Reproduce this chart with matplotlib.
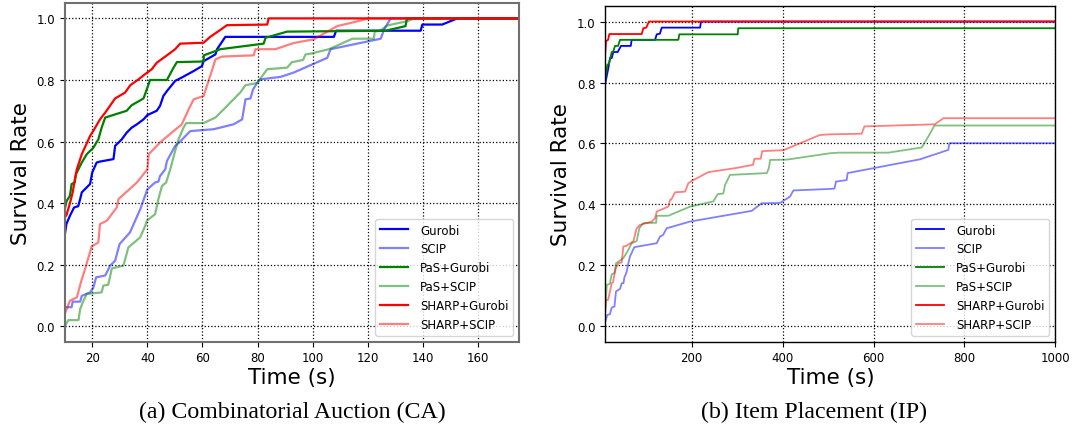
"""Survival-rate curves for CA and IP benchmarks."""

import matplotlib
matplotlib.use("Agg")
import matplotlib.pyplot as plt

labels = ['Gurobi', 'SCIP', 'PaS+Gurobi', 'PaS+SCIP', 'SHARP+Gurobi', 'SHARP+SCIP']

# ---- (a) Combinatorial Auction ----
ca_gurobi_t = [10, 10.6, 11.9, 13.4, 14.9, 15.6, 16.2, 19.2, 20.0, 21.6, 22.8, 27.7, 28.3, 30.7,
               32.5, 34.3, 36.2, 38.6, 40.0, 43.4, 44.6, 45.8, 47.1, 50.1, 52.5, 56.8, 59.8, 60.4,
               64.7, 65.3, 67.7, 68.3, 107.7, 108.5, 139.2, 139.8, 147, 152.5, 200]
ca_gurobi_r = [0.294, 0.332, 0.359, 0.386, 0.39, 0.413, 0.435, 0.462, 0.50, 0.532, 0.535, 0.543,
               0.586, 0.607, 0.629, 0.645, 0.656, 0.672, 0.686, 0.70, 0.716, 0.748, 0.764, 0.797,
               0.808, 0.829, 0.845, 0.861, 0.883, 0.90, 0.932, 0.94, 0.94, 0.96, 0.96, 0.98, 0.98,
               1.0, 1.0]

ca_scip_t = [10, 12.5, 12.9, 15.6, 16.2, 19.2, 20.4, 21.4, 24.7, 26.5, 28.3, 29.9, 33.7, 37.4,
             40.0, 42.8, 44.0, 44.6, 46.5, 47.1, 50.1, 51.9, 55.0, 55.6, 64.0, 71.3, 74.4, 75.6,
             77.4, 78.4, 79.8, 81.0, 88.3, 93.1, 105.3, 106.5, 124.7, 125.9, 128.3, 200]
ca_scip_r = [0.062, 0.062, 0.08, 0.08, 0.099, 0.11, 0.126, 0.159, 0.165, 0.197, 0.213, 0.267,
             0.305, 0.38, 0.445, 0.467, 0.47, 0.488, 0.51, 0.537, 0.586, 0.60, 0.629, 0.634, 0.64,
             0.656, 0.672, 0.737, 0.74, 0.77, 0.79, 0.802, 0.81, 0.824, 0.872, 0.90, 0.934, 0.964,
             1.0, 1.0]

ca_pas_gurobi_t = [10, 10.7, 11.9, 12.5, 13.6, 14.1, 16.2, 18.0, 20.4, 22.2, 23.4, 24.7, 32.5,
                   34.3, 38.6, 39.8, 41.0, 47.1, 49.5, 50.7, 60.4, 60.5, 66.5, 82.2, 82.9, 90.7,
                   126.5, 133.7, 134.2, 200]
ca_pas_gurobi_r = [0.38, 0.407, 0.424, 0.462, 0.467, 0.494, 0.532, 0.559, 0.58, 0.607, 0.645,
                   0.678, 0.70, 0.718, 0.74, 0.77, 0.80, 0.80, 0.84, 0.858, 0.86, 0.88, 0.90,
                   0.918, 0.937, 0.957, 0.96, 0.975, 1.0, 1.0]

ca_pas_scip_t = [10, 11.3, 15.0, 15.6, 16.8, 18.0, 23.4, 24.0, 25.8, 27.1, 31.3, 33.1, 37.4, 39.2,
                 39.8, 42.8, 44.0, 45.3, 46.8, 48.3, 50.1, 51.3, 53.1, 54.1, 60.4, 64.7, 68.3,
                 70.7, 73.7, 75.6, 79.8, 83.5, 90.7, 92.5, 93.7, 96.5, 97.4, 99.0, 105.9, 114.4,
                 122.2, 122.5, 124.5, 127.1, 134.4, 136.8, 200]
ca_pas_scip_r = [0.0, 0.02, 0.02, 0.056, 0.083, 0.105, 0.11, 0.132, 0.135, 0.188, 0.197, 0.256,
                 0.289, 0.326, 0.343, 0.364, 0.413, 0.456, 0.467, 0.51, 0.57, 0.607, 0.645, 0.66,
                 0.66, 0.678, 0.71, 0.732, 0.759, 0.783, 0.79, 0.835, 0.84, 0.858, 0.86, 0.865,
                 0.883, 0.885, 0.90, 0.934, 0.934, 0.957, 0.96, 0.977, 0.991, 1.0, 1.0]

ca_sharp_gurobi_t = [10, 10.6, 11.9, 12.9, 13.7, 14.4, 16.2, 19.2, 20.4, 22.8, 24.7, 28.3, 31.9,
                     33.8, 36.8, 38.6, 41.6, 43.4, 47.1, 50.1, 51.9, 60.4, 62.8, 65.9, 68.9, 83.5,
                     84.0, 200]
ca_sharp_gurobi_r = [0.354, 0.36, 0.40, 0.435, 0.478, 0.51, 0.559, 0.618, 0.635, 0.672, 0.694,
                     0.74, 0.759, 0.783, 0.802, 0.815, 0.835, 0.856, 0.88, 0.90, 0.918, 0.921,
                     0.94, 0.959, 0.978, 0.98, 1.0, 1.0]

ca_sharp_scip_t = [10, 11.9, 14.4, 16.2, 17.4, 19.8, 22.2, 22.8, 25.3, 28.9, 29.5, 36.2, 40.0,
                   40.5, 44.6, 49.5, 52.5, 55.0, 56.8, 60.4, 62.8, 64.7, 67.1, 78.6, 79.2, 86.5,
                   93.1, 100.4, 108.9, 113.7, 120.4, 200]
ca_sharp_scip_r = [0.04, 0.083, 0.094, 0.153, 0.186, 0.26, 0.272, 0.332, 0.343, 0.386, 0.413,
                   0.467, 0.51, 0.559, 0.597, 0.634, 0.656, 0.705, 0.737, 0.748, 0.813, 0.867,
                   0.876, 0.88, 0.90, 0.90, 0.92, 0.932, 0.975, 0.985, 1.0, 1.0]

# ---- (b) Item Placement ----
ip_gurobi_t = [10, 16.6, 20.3, 24, 27.6, 37.2, 44.5, 65.9, 68, 119.4, 123.1, 130, 134.1, 218.4,
               220.5, 1000]
ip_gurobi_r = [0.798, 0.847, 0.88, 0.88, 0.90, 0.90, 0.92, 0.92, 0.94, 0.94, 0.958, 0.96, 0.98,
               0.98, 1.0, 1.0]

ip_scip_t = [10, 14.4, 20, 24.1, 30, 33.5, 42.3, 46.1, 50, 51.8, 57.1, 60.6, 64.3, 73.8, 123.1,
             130.4, 137, 145.1, 196.4, 332, 354, 394.4, 416.4, 423.7, 504.4, 514, 517.6, 541,
             543, 702, 764.6, 766.8, 1000]
ip_scip_r = [0.016, 0.038, 0.04, 0.062, 0.065, 0.115, 0.123, 0.142, 0.142, 0.16, 0.18, 0.207,
             0.23, 0.26, 0.273, 0.295, 0.30, 0.322, 0.344, 0.379, 0.404, 0.405, 0.426, 0.446,
             0.451, 0.452, 0.475, 0.48, 0.503, 0.548, 0.579, 0.601, 0.601]

ip_pas_gurobi_t = [10, 14.4, 18, 24.1, 27, 31.3, 38, 42.3, 170.6, 172.8, 301.3, 302.5, 1000]
ip_pas_gurobi_r = [0.814, 0.858, 0.862, 0.90, 0.90, 0.92, 0.92, 0.94, 0.94, 0.958, 0.958, 0.978,
                   0.978]

ip_pas_scip_t = [10, 13.1, 20, 24.1, 30, 33.5, 49.6, 60.6, 68, 79, 84.8, 93.6, 121.6, 123.1,
                 148.6, 196.4, 247.6, 257.3, 269.6, 273.3, 284.3, 365.1, 370, 372.4, 409, 504.4,
                 522.6, 632.7, 706, 720.7, 734, 1000]
ip_pas_scip_r = [0.049, 0.136, 0.14, 0.171, 0.175, 0.207, 0.224, 0.251, 0.273, 0.28, 0.322,
                 0.339, 0.34, 0.363, 0.363, 0.393, 0.41, 0.434, 0.436, 0.464, 0.497, 0.503, 0.52,
                 0.546, 0.547, 0.568, 0.57, 0.57, 0.587, 0.623, 0.659, 0.659]

ip_sharp_gurobi_t = [10, 11.5, 16, 18.8, 90, 93.6, 100, 106, 1000]
ip_sharp_gurobi_r = [0.90, 0.936, 0.94, 0.959, 0.959, 0.978, 0.98, 1.0, 1.0]

ip_sharp_scip_t = [10, 11.5, 16, 20.3, 24.1, 27, 29.8, 33, 38.6, 46, 49.6, 57, 71.6, 79, 86.3,
                   112.1, 119.4, 123.1, 148.6, 152.4, 155, 163.4, 185.4, 192.7, 200, 236.6, 299,
                   335, 338, 352, 355, 401.7, 482, 504, 574, 580, 735, 753.7, 1000]
ip_sharp_scip_r = [0.06, 0.087, 0.087, 0.115, 0.142, 0.145, 0.169, 0.19, 0.207, 0.21, 0.262,
                   0.265, 0.279, 0.322, 0.333, 0.344, 0.355, 0.377, 0.393, 0.415, 0.416, 0.44,
                   0.442, 0.47, 0.477, 0.506, 0.52, 0.53, 0.55, 0.55, 0.575, 0.578, 0.628, 0.63,
                   0.632, 0.656, 0.663, 0.683, 0.683]

colors = ['blue', 'blue', 'green', 'green', 'red', 'red']
alphas = [1.0, 0.5, 1.0, 0.5, 1.0, 0.5]

ca_series = [(ca_gurobi_t, ca_gurobi_r), (ca_scip_t, ca_scip_r),
             (ca_pas_gurobi_t, ca_pas_gurobi_r), (ca_pas_scip_t, ca_pas_scip_r),
             (ca_sharp_gurobi_t, ca_sharp_gurobi_r), (ca_sharp_scip_t, ca_sharp_scip_r)]
ip_series = [(ip_gurobi_t, ip_gurobi_r), (ip_scip_t, ip_scip_r),
             (ip_pas_gurobi_t, ip_pas_gurobi_r), (ip_pas_scip_t, ip_pas_scip_r),
             (ip_sharp_gurobi_t, ip_sharp_gurobi_r), (ip_sharp_scip_t, ip_sharp_scip_r)]


def draw_panel(ax, series, xlim, xticks, lw, spine_color, spine_lw):
    for (t, r), lab, c, a in zip(series, labels, colors, alphas):
        ax.plot(t, r, color=c, alpha=a, lw=lw, label=lab)
    ax.set_xlim(*xlim)
    ax.set_ylim(-0.05, 1.05)
    ax.set_xticks(xticks)
    ax.set_yticks([0.0, 0.2, 0.4, 0.6, 0.8, 1.0])
    ax.tick_params(labelsize=8.5)
    ax.grid(True, color='black', linestyle=':', linewidth=0.9)
    for s in ax.spines.values():
        s.set_color(spine_color)
        s.set_linewidth(spine_lw)
    ax.set_xlabel('Time (s)', fontsize=15.5, labelpad=2)
    ax.set_ylabel('Survival Rate', fontsize=15.5)
    ax.legend(loc='lower right', fontsize=8.5, framealpha=0.8,
              handlelength=2.4, handletextpad=1.0)


fig = plt.figure(figsize=(10.75, 4.39), dpi=100)
ax1 = fig.add_axes([0.0602, 0.2194, 0.4229, 0.7715])
ax2 = fig.add_axes([0.5631, 0.2194, 0.4186, 0.764])

draw_panel(ax1, ca_series, (10, 175), range(20, 161, 20), 1.6, '#707070', 1.5)
draw_panel(ax2, ip_series, (10, 1000), range(200, 1001, 200), 1.3, 'black', 1.0)

fig.text(0.2716, 0.0615, '(a) Combinatorial Auction (CA)', ha='center', va='center',
         fontsize=17.2, family='Liberation Serif')
fig.text(0.7572, 0.0615, '(b) Item Placement (IP)', ha='center', va='center',
         fontsize=17.2, family='Liberation Serif')

fig.savefig('out.png', dpi=100)
plt.close(fig)
